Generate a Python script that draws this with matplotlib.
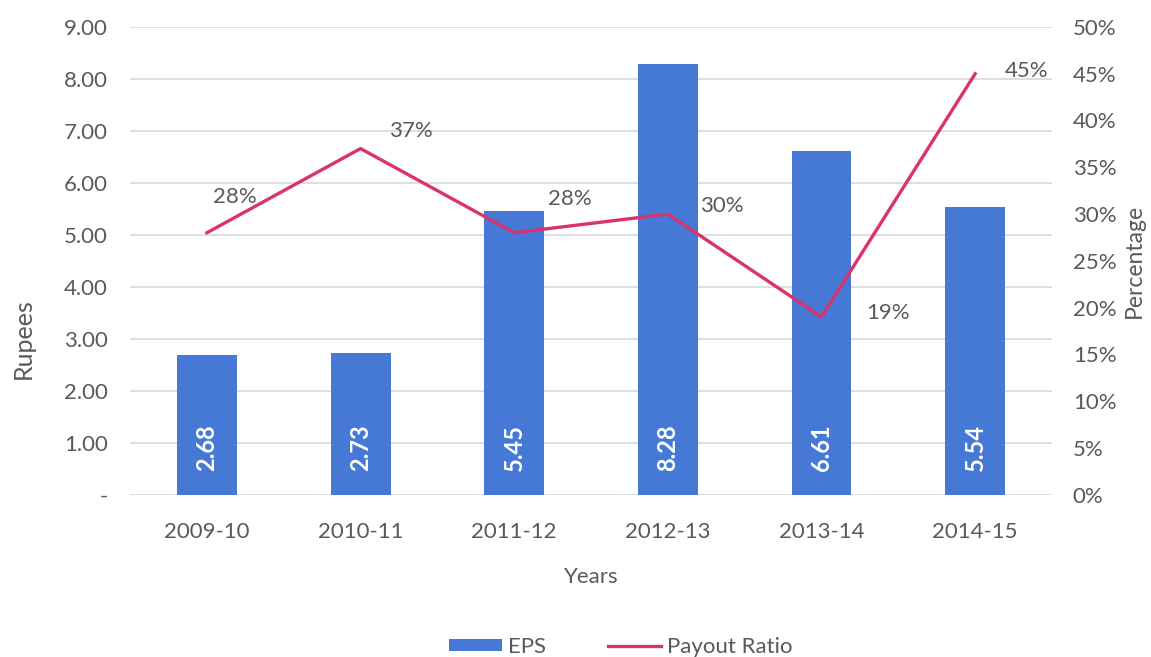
import matplotlib

matplotlib.use("Agg")
import matplotlib.pyplot as plt
from matplotlib.patches import Patch
from matplotlib.lines import Line2D
from matplotlib.ticker import FuncFormatter, MultipleLocator

years = ["2009-10", "2010-11", "2011-12", "2012-13", "2013-14", "2014-15"]
eps = [2.68, 2.73, 5.45, 8.28, 6.61, 5.54]
payout_pct = [28, 37, 28, 30, 19, 45]

# label offsets (points) for the payout percentages
pct_offsets = [(20, 26), (36, 13), (40, 24), (39, 6), (48, 3), (37, 2)]

BLUE = "#4678D6"
PINK = "#D9336E"
GREY = "#595959"

plt.rcParams["font.family"] = ["Lato", "DejaVu Sans"]

fig = plt.figure(figsize=(11.51, 6.57), dpi=100)
ax = fig.add_axes([0.113, 0.247, 0.801, 0.712])
ax2 = ax.twinx()

x = list(range(len(years)))
ax.bar(x, eps, width=0.39, color=BLUE, zorder=2)
for xi, v in zip(x, eps):
    ax.text(xi, 0.45, f"{v:.2f}", rotation=90, ha="center", va="bottom",
            color="white", fontsize=17, fontweight="bold", zorder=3)

ax.set_ylim(0, 9)
ax.set_xlim(-0.5, len(years) - 0.5)
ax.yaxis.set_major_locator(MultipleLocator(1))
ax.yaxis.set_major_formatter(FuncFormatter(lambda v, _: "-" if v == 0 else f"{v:.2f}"))
ax.grid(axis="y", color="#D9D9D9", linewidth=1.2, zorder=0)
ax.set_axisbelow(True)
ax.set_xticks(x)
ax.set_xticklabels(years)
ax.tick_params(axis="both", length=0, labelsize=16, labelcolor=GREY)
ax.tick_params(axis="x", pad=20)
ax.tick_params(axis="y", pad=16)
ax.set_ylabel("Rupees", fontsize=18, color=GREY)
ax.yaxis.set_label_coords(-0.103, 0.333)
ax.set_xlabel("Years", fontsize=16, color=GREY, labelpad=18)

frac = [p / 100 for p in payout_pct]
ax2.plot(x, frac, color=PINK, linewidth=2.4, zorder=4)
for xi, f, p, off in zip(x, frac, payout_pct, pct_offsets):
    ax2.annotate(f"{p}%", (xi, f), xytext=off, textcoords="offset points",
                 ha="center", va="center", fontsize=16, color=GREY)
ax2.set_ylim(0, 0.5)
ax2.yaxis.set_major_locator(MultipleLocator(0.05))
ax2.yaxis.set_major_formatter(FuncFormatter(lambda v, _: f"{v * 100:.0f}%"))
ax2.tick_params(axis="y", length=0, labelsize=16, labelcolor=GREY, pad=15)
ax2.set_ylabel("Percentage", fontsize=16.5, color=GREY, labelpad=5)

for a in (ax, ax2):
    for s in a.spines.values():
        s.set_visible(False)

handles = [Patch(facecolor=BLUE, label="EPS"),
           Line2D([], [], color=PINK, linewidth=2.4, label="Payout Ratio")]
fig.legend(handles=handles, loc="center", bbox_to_anchor=(0.539, 0.015),
           ncol=2, frameon=False, fontsize=16, labelcolor=GREY,
           handlelength=2.4, handleheight=0.45, handletextpad=0.25,
           columnspacing=2.8)

fig.savefig("out.png", dpi=100)
